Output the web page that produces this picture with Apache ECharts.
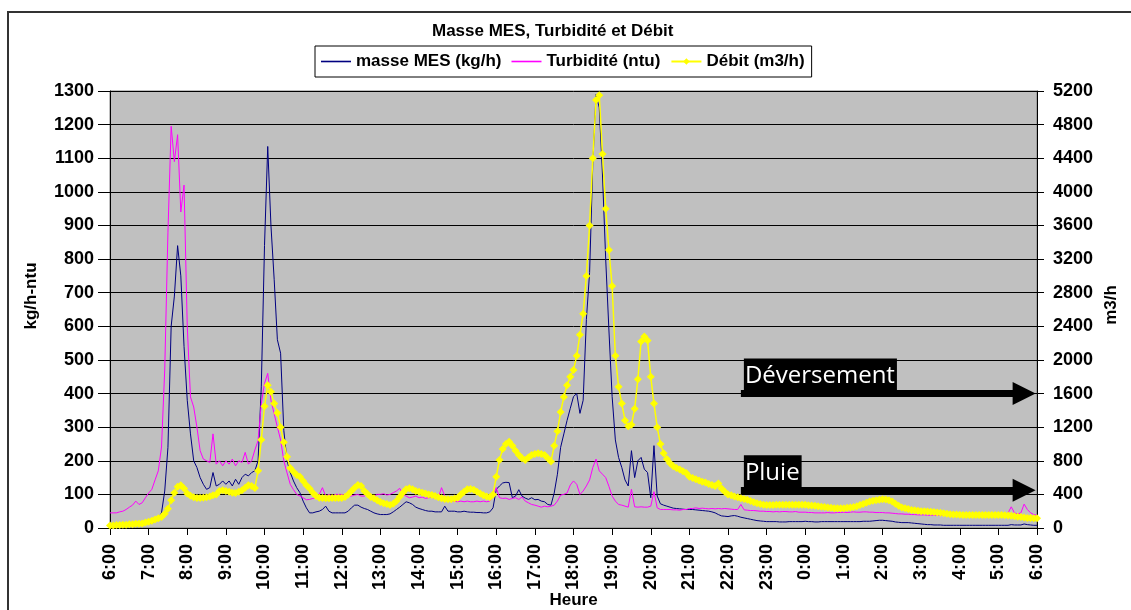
<!DOCTYPE html>
<html><head><meta charset="utf-8">
<script src="https://cdn.jsdelivr.net/npm/echarts@6/dist/echarts.min.js"></script>
<style>html,body{margin:0;padding:0;background:#fff}#c{width:1131px;height:610px}</style>
</head><body><div id="c"></div>
<script>
// ---- tick labels (x axis, every hour) ----
const hourLabels = ['6:00','7:00','8:00','9:00','10:00','11:00','12:00','13:00','14:00','15:00','16:00','17:00',
  '18:00','19:00','20:00','21:00','22:00','23:00','0:00','1:00','2:00','3:00','4:00','5:00','6:00'];

// ---- series values, 5-minute readings, one row per hour (6:00 -> 6:00 next day) ----
const masseMES = [
  10,10,10,10,10,12,12,12,12,12,14,14,
  15,15,20,30,45,110,240,600,690,840,750,540,
  380,280,200,180,150,130,115,120,165,125,130,140,
  130,140,125,145,130,150,160,155,165,170,200,420,
  840,1135,900,740,560,520,290,200,165,140,120,105,
  80,60,45,45,48,50,55,65,50,45,45,45,
  45,45,50,60,68,68,62,58,55,50,45,42,
  40,40,40,42,48,55,62,70,78,75,70,62,
  58,55,52,50,50,48,48,48,65,50,50,50,
  48,48,50,48,47,47,46,46,45,45,48,60,
  115,125,134,136,135,90,95,114,95,89,85,90,
  84,85,80,78,70,68,104,160,240,280,320,356,
  391,400,341,380,620,760,1085,1290,1250,1050,800,589,
  391,262,210,180,143,125,230,150,200,210,175,165,
  90,245,95,72,68,65,62,59,58,57,56,55,
  55,55,54,53,52,51,50,48,45,40,36,35,
  34,36,37,35,32,30,28,26,24,22,21,20,
  19,19,19,19,18,18,18,19,19,19,19,19,
  20,19,19,18,18,19,19,19,19,19,19,19,
  19,19,19,19,19,19,20,20,20,21,22,23,
  23,22,21,20,18,17,16,16,16,15,14,13,
  12,11,10,10,9,9,9,8,8,8,8,8,
  8,8,8,8,8,8,8,8,8,8,8,8,
  8,8,8,8,10,9,9,9,12,10,9,8,
  8
];
const turbidite = [
  45,45,45,48,50,55,62,68,80,70,75,90,
  104,115,143,170,241,470,880,1195,1090,1170,940,1020,
  600,390,360,300,230,205,200,195,280,190,200,185,
  200,190,205,185,200,195,225,190,200,232,260,370,
  430,460,380,340,300,262,200,164,130,114,100,95,
  90,84,85,88,90,100,120,95,100,95,100,100,
  100,98,95,95,98,100,95,95,100,98,95,100,
  100,102,98,100,105,110,118,100,95,90,92,95,
  90,92,88,90,92,88,90,120,95,85,80,80,
  78,80,78,80,78,78,80,78,80,78,80,95,
  120,90,88,89,85,88,90,85,92,80,75,70,
  68,65,62,65,63,65,68,80,98,100,104,128,
  140,130,100,110,125,143,180,205,170,160,150,124,
  95,80,70,68,65,62,115,63,62,63,62,62,
  65,108,60,55,55,55,55,54,54,53,55,55,
  58,58,60,58,59,58,57,58,57,58,57,58,
  57,56,55,55,70,54,53,52,52,51,50,50,
  49,49,48,49,48,49,49,48,48,49,47,47,
  47,46,46,45,45,45,45,46,45,45,46,46,
  47,46,47,48,47,47,48,48,47,47,46,46,
  46,45,45,44,43,42,42,41,41,40,40,39,
  39,39,38,38,38,38,38,38,38,37,37,37,
  37,37,37,37,37,37,37,37,37,37,37,37,
  38,38,38,45,63,45,42,45,71,55,45,40,
  38
];
const debit = [
  30,30,35,35,40,40,45,45,50,50,55,65,
  75,85,100,115,130,170,230,330,420,490,510,470,
  410,385,365,357,357,360,365,375,390,400,440,450,
  440,430,420,417,430,450,480,510,500,476,680,1050,
  1450,1700,1620,1480,1368,1200,1020,848,714,670,630,610,
  560,510,470,420,380,360,357,355,355,357,357,357,
  357,370,400,440,480,512,500,440,405,370,353,330,
  310,295,285,274,290,320,373,420,460,472,460,440,
  432,420,410,400,393,380,365,353,345,341,341,350,
  360,400,430,460,464,455,430,410,390,375,365,400,
  610,810,940,1000,1027,980,920,870,830,810,840,870,
  880,888,880,870,830,790,980,1150,1380,1560,1700,1800,
  1880,2050,2300,2550,3000,3600,4400,5093,5150,4450,3800,3308,
  2880,2050,1682,1480,1280,1210,1230,1420,1770,2220,2280,2230,
  1800,1480,1200,1000,889,820,770,735,715,695,675,655,
  610,595,580,565,551,540,525,512,500,530,470,430,
  400,390,375,365,355,345,335,320,305,295,285,278,
  274,274,275,276,277,278,278,278,278,278,278,278,
  276,272,268,264,258,254,250,245,240,236,234,234,
  236,240,245,250,260,274,285,300,315,325,330,335,
  341,340,330,315,290,265,245,234,225,215,210,205,
  200,198,196,194,190,185,180,175,170,165,162,160,
  158,156,155,155,155,155,155,155,155,155,155,155,
  155,155,152,150,145,140,135,130,125,120,118,115,
  115
];

// ---- annotation texts and their levels (m3/h, right axis) ----
const annotTexts = ['Déversement', 'Pluie'];
const annotLevels = [1600, 450];

// ---- build 5-minute categories from hour labels ----
const categories = [];
for (let h = 0; h < 24; h++) {
  const hh = hourLabels[h].split(':')[0];
  for (let m = 0; m < 12; m++) categories.push(hh + ':' + String(m * 5).padStart(2, '0'));
}
categories.push(hourLabels[24]);

const FONT = '"Liberation Sans", Arial, sans-serif';
const boldTxt = (size) => ({ fontFamily: FONT, fontWeight: 'bold', fontSize: size, color: '#000' });
const LINE_ICON = 'path://M0,0H30V1.6H0Z';

const arrowStart = 196.2, arrowEnd = 284.3;

const chart = echarts.init(document.getElementById('c'), null, { renderer: 'canvas' });
chart.setOption({
  animation: false,
  backgroundColor: '#fff',
  title: {
    text: 'Masse MES, Turbidité et Débit', left: 432, top: 23, padding: 0,
    textStyle: boldTxt(17)
  },
  legend: {
    left: 315, top: 46, padding: [7, 7, 7, 6],
    borderColor: '#000', borderWidth: 1, backgroundColor: '#fff',
    itemWidth: 30, itemHeight: 8, itemGap: 10,
    textStyle: Object.assign({ lineHeight: 17 }, boldTxt(17)),
    data: [
      { name: 'masse MES (kg/h)', icon: LINE_ICON },
      { name: 'Turbidité (ntu)', icon: LINE_ICON },
      { name: 'Débit (m3/h)' }
    ]
  },
  grid: {
    left: 110, right: 94, top: 91, bottom: 82,
    containLabel: false, outerBoundsMode: 'none',
    show: true, backgroundColor: '#C0C0C0', borderColor: '#808080', borderWidth: 1
  },
  xAxis: {
    type: 'category', data: categories, boundaryGap: false,
    axisLine: { lineStyle: { color: '#000', width: 1 } },
    axisTick: { show: true, interval: 11, length: 7, lineStyle: { color: '#000' } },
    axisLabel: Object.assign({ interval: 11, rotate: 90, margin: 16 }, boldTxt(18)),
    splitLine: { show: false },
    name: 'Heure', nameLocation: 'middle', nameGap: 64, nameMoveOverlap: false,
    nameTextStyle: boldTxt(17)
  },
  yAxis: [
    {
      type: 'value', min: 0, max: 1300, interval: 100,
      axisLine: { show: true, lineStyle: { color: '#000' } },
      axisTick: { show: true, length: 12, lineStyle: { color: '#000' } },
      axisLabel: Object.assign({ margin: 16, formatter: (v) => String(v) }, boldTxt(18)),
      splitLine: { show: true, lineStyle: { color: '#000', width: 1 } }
    },
    {
      type: 'value', position: 'right', min: 0, max: 5200, interval: 400,
      axisLine: { show: true, lineStyle: { color: '#000' } },
      axisTick: { show: true, length: 7, lineStyle: { color: '#000' } },
      axisLabel: Object.assign({ margin: 16, formatter: (v) => String(v) }, boldTxt(18)),
      splitLine: { show: false }
    }
  ],
  graphic: [
    { type: 'rect', silent: true, z: 100,
      shape: { x: 8, y: 12, width: 1200, height: 700 },
      style: { fill: 'none', stroke: '#333', lineWidth: 2 } },
    { type: 'text', x: 31, y: 296, rotation: Math.PI / 2, silent: true,
      style: { text: 'kg/h-ntu', font: 'bold 17px ' + FONT, fill: '#000',
        textAlign: 'center', textVerticalAlign: 'middle', align: 'center', verticalAlign: 'middle' } },
    { type: 'text', x: 1111, y: 305, rotation: Math.PI / 2, silent: true,
      style: { text: 'm3/h', font: 'bold 17px ' + FONT, fill: '#000',
        textAlign: 'center', textVerticalAlign: 'middle', align: 'center', verticalAlign: 'middle' } }
  ],
  series: [
    {
      name: 'masse MES (kg/h)', type: 'line', yAxisIndex: 0, data: masseMES,
      symbol: 'none', lineStyle: { color: '#000080', width: 1 }, itemStyle: { color: '#000080' }
    },
    {
      name: 'Turbidité (ntu)', type: 'line', yAxisIndex: 0, data: turbidite,
      symbol: 'none', lineStyle: { color: '#FF00FF', width: 1 }, itemStyle: { color: '#FF00FF' }
    },
    {
      name: 'Débit (m3/h)', type: 'line', yAxisIndex: 1, data: debit,
      symbol: 'diamond', symbolSize: 8, showSymbol: true, showAllSymbol: true,
      lineStyle: { color: '#FFFF00', width: 1.5 }, itemStyle: { color: '#FFFF00' },
      markLine: {
        silent: true, animation: false,
        symbol: ['none', 'triangle'], symbolSize: [23, 23],
        lineStyle: { color: '#000', width: 7, type: 'solid' },
        label: {
          show: true, position: 'insideStartTop', distance: 3,
          color: '#fff', backgroundColor: '#000',
          fontFamily: '"Open Sans", "Noto Sans", sans-serif', fontSize: 24, fontWeight: 'normal',
          lineHeight: 29, padding: [3, 2, 0, 1],
          formatter: (p) => p.name
        },
        data: annotTexts.map((t, i) => [
          { name: t, coord: [arrowStart, annotLevels[i]] },
          { coord: [arrowEnd, annotLevels[i]] }
        ])
      }
    }
  ]
});
</script>
</body></html>
